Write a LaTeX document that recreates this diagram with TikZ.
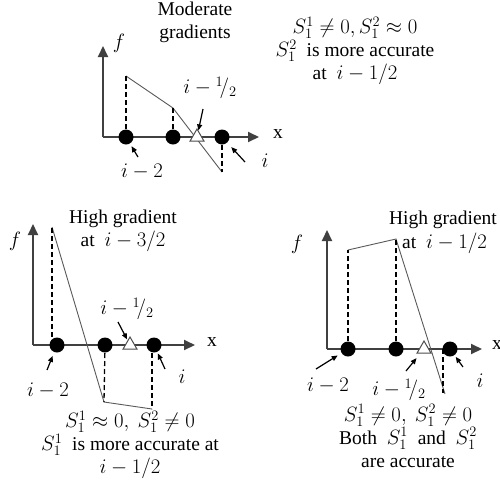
\documentclass[tikz,border=0pt]{standalone}
\usepackage{fontspec}
\setmainfont{Liberation Serif}
\usetikzlibrary{arrows.meta,shapes.geometric}
\begin{document}
\begin{tikzpicture}[x=1pt,y=-1pt,
  axisline/.style={draw=black!75,line width=2pt,-{Triangle[length=11pt,width=10pt]}},
  dot/.style={circle,fill=black,minimum size=15pt,inner sep=0pt},
  tri/.style={regular polygon,regular polygon sides=3,draw=black!70,fill=white,line width=1pt,minimum size=16pt,inner sep=0pt},
  dashline/.style={draw=black,line width=1.3pt,dash pattern=on 5pt off 3pt},
  fline/.style={draw=black!65,line width=0.9pt},
  lblarrow/.style={draw=black,line width=1.2pt,-{Triangle[length=6pt,width=5pt]}},
  txt/.style={font=\fontsize{19.5}{23}\selectfont,inner sep=0pt,align=center}
]
\useasboundingbox (0,0) rectangle (500,485);

% ---------- top panel ----------
\coordinate (o1) at (103,137);
\coordinate (yt1) at (103,46);
\coordinate (xt1) at (259,137);
\draw[axisline] (o1) -- (yt1);
\draw[axisline] (o1) -- (xt1);
\node[txt] (f1) at (119,43) {$f$};
\node[txt] (x1) at (278,134) {x};
\coordinate (a1) at (126,76);
\coordinate (b1) at (173,108);
\coordinate (c1) at (222,172);
\coordinate (d1a) at (126,137);
\coordinate (d1b) at (173,137);
\coordinate (d1c) at (222,137);
\draw[fline] (a1) -- (b1) -- (c1);
\draw[dashline] (d1a) -- (a1);
\draw[dashline] (d1b) -- (b1);
\draw[dashline] (d1c) -- (c1);
\node[dot] (p1a) at (d1a) {};
\node[dot] (p1b) at (d1b) {};
\node[dot] (p1c) at (d1c) {};
\node[tri] (t1) at (197,137) {};
\node[txt] (title1) at (195,22) {Moderate\\gradients};
\node[txt] (h1) at (210,88) {$i-{}^{1}\!/_{2}$};
\coordinate (h1tail) at (203,109);
\draw[lblarrow] (h1tail) -- (t1);
\node[txt] (m1) at (142,172) {$i-2$};
\coordinate (m1tail) at (138,157);
\draw[lblarrow,shorten >=3pt] (m1tail) -- (p1a);
\node[txt] (i1) at (265,161) {$i$};
\coordinate (i1tail) at (245,162);
\draw[lblarrow,shorten >=6pt] (i1tail) -- (p1c);
\node[txt] (n1) at (355,51) {$S_1^1\neq 0,S_1^2\approx 0$\\$S_1^2$\ \ is more accurate\\at\ \ $i-1/2$};

% ---------- bottom left panel ----------
\coordinate (o2) at (33,345);
\coordinate (yt2) at (33,224);
\coordinate (xt2) at (195,345);
\draw[axisline] (o2) -- (yt2);
\draw[axisline] (o2) -- (xt2);
\node[txt] (f2) at (15,241) {$f$};
\node[txt] (x2) at (212,342) {x};
\coordinate (a2) at (52,227);
\coordinate (b2) at (104,402);
\coordinate (c2) at (152,409);
\coordinate (a2d) at (52,345);
\coordinate (c2d) at (152,345);
\coordinate (d2a) at (57,345);
\coordinate (d2b) at (105,345);
\coordinate (d2c) at (154,345);
\draw[fline] (a2) -- (b2) -- (c2);
\draw[dashline] (a2d) -- (a2);
\draw[dashline] (d2b) -- (b2);
\draw[dashline] (c2d) -- (c2);
\node[dot] (p2a) at (d2a) {};
\node[dot] (p2b) at (d2b) {};
\node[dot] (p2c) at (d2c) {};
\node[tri] (t2) at (130,345) {};
\node[txt] (title2) at (123,231) {High gradient\\at\ \ $i-3/2$};
\node[txt] (h2) at (127,309) {$i-{}^{1}\!/_{2}$};
\coordinate (h2tail) at (118,322);
\draw[lblarrow,shorten >=1pt] (h2tail) -- (t2);
\node[txt] (m2) at (48,391) {$i-2$};
\coordinate (m2tail) at (47,370);
\draw[lblarrow,shorten >=4pt] (m2tail) -- (p2a);
\node[txt] (i2) at (182,377) {$i$};
\coordinate (i2tail) at (165,369);
\draw[lblarrow,shorten >=1.5pt] (i2tail) -- (p2c);
\node[txt] (n2) at (130,445) {$S_1^1\approx 0,\ S_1^2\neq 0$\\$S_1^1$\ \ is more accurate at\\$i-1/2$};

% ---------- bottom right panel ----------
\coordinate (o3) at (327,349);
\coordinate (yt3) at (327,230);
\coordinate (xt3) at (482,349);
\draw[axisline] (o3) -- (yt3);
\draw[axisline] (o3) -- (xt3);
\node[txt] (f3) at (297,244) {$f$};
\node[txt] (x3) at (497,345) {x};
\coordinate (a3) at (348,250);
\coordinate (b3) at (396,239);
\coordinate (c3) at (445,394);
\coordinate (c3d) at (443,393);
\coordinate (c3u) at (443,349);
\coordinate (d3a) at (348,349);
\coordinate (d3b) at (396,349);
\coordinate (d3c) at (450,349);
\draw[fline] (a3) -- (b3) -- (c3);
\draw[dashline] (d3a) -- (a3);
\draw[dashline] (d3b) -- (b3);
\draw[dashline] (c3u) -- (c3d);
\node[dot] (p3a) at (d3a) {};
\node[dot] (p3b) at (d3b) {};
\node[dot] (p3c) at (d3c) {};
\node[tri] (t3) at (424,349) {};
\node[txt] (title3a) at (443,220) {High gradient};
\node[txt,anchor=west] (title3b) at (402,243) {at\ \ $i-1/2$};
\node[txt] (m3) at (328,386) {$i-2$};
\coordinate (m3tail) at (316,369);
\draw[lblarrow,shorten >=4.5pt] (m3tail) -- (p3a);
\node[txt] (h3) at (399,390) {$i-{}^{1}\!/_{2}$};
\coordinate (h3tail) at (406,371);
\draw[lblarrow,shorten >=6pt] (h3tail) -- (t3);
\node[txt] (i3) at (480,381) {$i$};
\coordinate (i3tail) at (463,367);
\draw[lblarrow,shorten >=2pt] (i3tail) -- (p3c);
\node[txt] (n3) at (408,436) {$S_1^1\neq 0,\ S_1^2\neq 0$\\Both\ \ $S_1^1$\ \ and\ \ $S_1^2$\\are accurate};
\end{tikzpicture}
\end{document}
